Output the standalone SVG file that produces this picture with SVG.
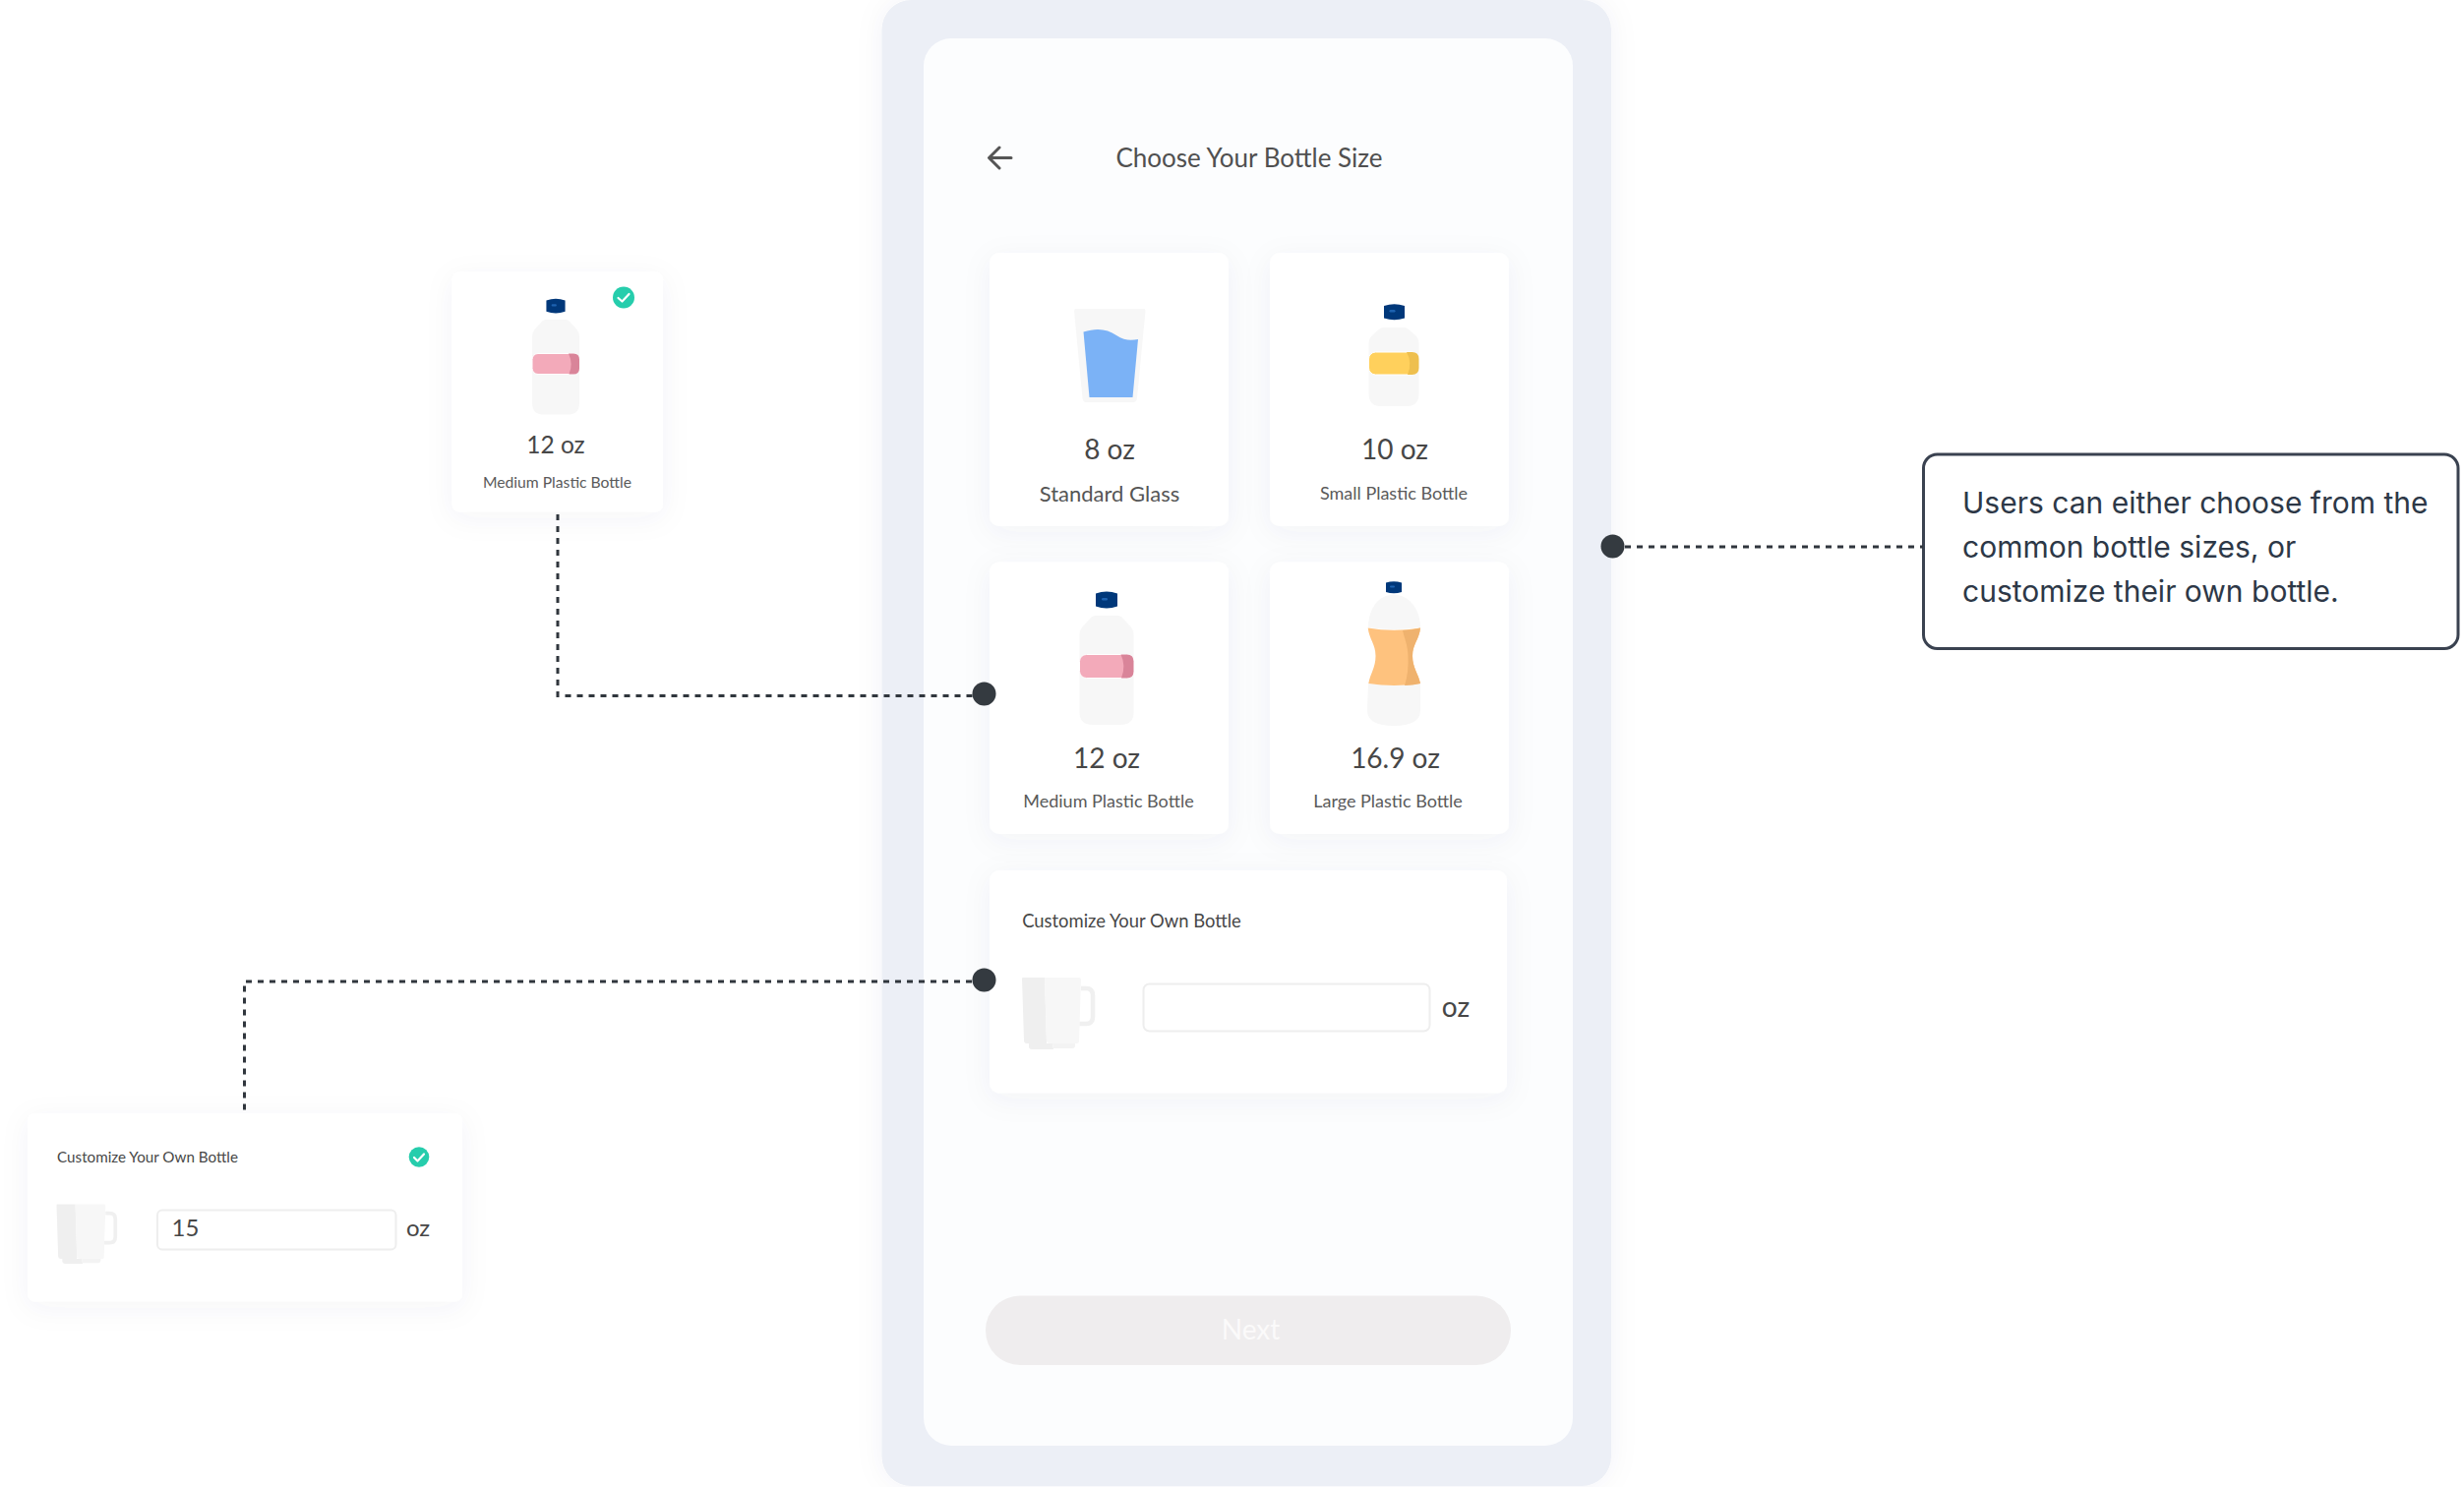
<svg xmlns="http://www.w3.org/2000/svg" width="2505" height="1512" viewBox="0 0 2505 1512">
<defs>
<filter id="sh" x="-30%" y="-30%" width="160%" height="160%"><feDropShadow dx="0" dy="6" stdDeviation="14" flood-color="#3a4a6b" flood-opacity="0.05"/></filter>
<filter id="shp" x="-10%" y="-10%" width="120%" height="120%"><feDropShadow dx="0" dy="0" stdDeviation="14" flood-color="#3a4a6b" flood-opacity="0.05"/></filter>
<g id="bottle">
<path d="M-12 0 H12 Q14 0 16 2 L25 12 Q27.500 15 27.500 20 V98 Q27.500 111 14 111 H-14 Q-27.500 111 -27.500 98 V20 Q-27.500 15 -25 12 L-16 2 Q-14 0 -12 0 Z" fill="#f7f7f7"/>
<path d="M-11 -22.500 Q0 -26.500 11 -22.500 V-9.500 Q0 -5.500 -11 -9.500 Z" fill="#00387a"/>
<rect x="-5" y="-18" width="6" height="2.500" rx="1.200" fill="#1d62b0"/>
</g>
<g id="mug">
<path d="M0 1 Q0 0 1 0 H23 L25 67 H5 Q2 67 2 64 Z" fill="#efefef"/>
<path d="M23 0 H58 Q60 0 60 2 L58 65 Q58 67 56 67 H29 Q25 67 25 64 Z" fill="#f7f7f7"/>
<path d="M7 67 H31 L32 73 H10 Q7 73 7 70 Z" fill="#efefef"/>
<path d="M31 67 H54 V69 Q54 72 51 72 H32 Z" fill="#f3f3f3"/>
<path d="M60 11 H65 Q72 11 72 18 V40 Q72 47 65 47 H58.500" fill="none" stroke="#f0f0f0" stroke-width="4.500"/>
</g>
</defs>
<style>
.t{font-family:"Lato","Noto Sans",sans-serif;fill:#474747;text-anchor:middle}
.oz{font-size:28px}
.lbl{font-size:18px;fill:#5a5a5a}
.card{fill:#fff}
.band{stroke:#fff;stroke-width:1}
.conn{fill:none;stroke:#30363d;stroke-width:3;stroke-dasharray:6 6}
.dot{fill:#343a40}
.check{fill:none;stroke:#fff;stroke-width:2.200;stroke-linecap:round;stroke-linejoin:round}
</style>
<rect width="2505" height="1512" fill="#fff"/>
<g id="phone">
<rect x="896.500" y="0" width="741.500" height="1511" rx="30" fill="#ecEff6" filter="url(#shp)"/>
<rect x="939" y="39" width="660" height="1431" rx="28" fill="#fcfdfe"/>
<path d="M1028 160.500 H1006 M1016 150 L1005.500 160.500 L1016 171" fill="none" stroke="#555" stroke-width="3" stroke-linecap="round" stroke-linejoin="round"/>
<text class="t" x="1270" y="169.500" style="font-size:26px;fill:#505050">Choose Your Bottle Size</text>
</g>
<g id="card-8oz">
<rect class="card" x="1006" y="257" width="243" height="278" rx="10" filter="url(#sh)"/>
<path d="M1093.500 314 H1163 Q1164.500 314 1164.500 316 L1156 405 Q1155.500 409 1152 409 H1104 Q1101 409 1100.500 405 L1092 316 Q1092 314 1093.500 314 Z" fill="#f7f7f7"/>
<path d="M1101.500 337.500 C1115 333 1126 334.500 1135 341 C1143 346.500 1150 346.500 1157 345 L1151.500 404 H1107.500 Z" fill="#7bb2f6"/>
<text class="t oz" x="1128" y="467">8 oz</text>
<text class="t" x="1128" y="509.500" style="font-size:22px;fill:#555">Standard Glass</text>
</g>
<g id="card-10oz">
<rect class="card" x="1291" y="257" width="243" height="278" rx="10" filter="url(#sh)"/>
<path d="M1406 333 H1428 Q1430 333 1432 335 L1440 342 Q1442.500 345 1442.500 349 V400 Q1442.500 413 1430 413 H1404 Q1391.500 413 1391.500 400 V349 Q1391.500 345 1394 342 L1402 335 Q1404 333 1406 333 Z" fill="#f7f7f7"/>
<path d="M1407 311 Q1417.500 307.500 1428 311 V323.500 Q1417.500 327 1407 323.500 Z" fill="#00387a"/>
<rect x="1412.500" y="315" width="6" height="2.500" rx="1.200" fill="#1d62b0"/>
<rect class="band" x="1391.500" y="358" width="51" height="23" rx="7" fill="#ffd05c"/>
<path d="M1430 358 H1435.500 Q1442.500 358 1442.500 365 V374 Q1442.500 381 1435.500 381 H1431 Q1436 369 1430 358 Z" fill="#eebf4e"/>
<text class="t oz" x="1418" y="467">10 oz</text>
<text class="t lbl" x="1417" y="507.500">Small Plastic Bottle</text>
</g>
<g id="card-12oz">
<rect class="card" x="1006" y="571.500" width="243" height="276.500" rx="10" filter="url(#sh)"/>
<use href="#bottle" x="1125" y="626"/>
<rect class="band" x="1097.500" y="665.500" width="55" height="24" rx="7" fill="#f3aaba"/>
<path d="M1139.500 665.500 H1145.500 Q1152.500 665.500 1152.500 672.500 V682.500 Q1152.500 689.500 1145.500 689.500 H1140 Q1145 677 1139.500 665.500 Z" fill="#d98499"/>
<text class="t oz" x="1125" y="780.500">12 oz</text>
<text class="t lbl" x="1127" y="821">Medium Plastic Bottle</text>
</g>
<g id="card-169oz">
<rect class="card" x="1291" y="571.500" width="243" height="276.500" rx="10" filter="url(#sh)"/>
<path d="M1409 606 Q1417 603 1425 606 C1438 611 1444 625 1444 638 Q1417 642 1391 638 C1391 625 1396 611 1409 606 Z" fill="#f7f7f7"/>
<path d="M1391 695 Q1417 699 1444 695 V722 Q1444 738 1417 738 Q1390 738 1390 722 Z" fill="#f7f7f7"/>
<path d="M1409 592.500 Q1417 590 1425 592.500 V602 Q1417 604.500 1409 602 Z" fill="#00387a"/>
<rect x="1413" y="595.500" width="5" height="2" rx="1" fill="#1d62b0"/>
<path d="M1390.700 638.500 Q1417 643 1444 638.500 C1443 650 1436 655 1436 667 C1436 679 1442 685 1444 695 Q1417 699 1391.300 695 C1393 685 1398.500 679 1398.500 667 C1398.500 655 1392 650 1390.700 638.500 Z" fill="#fec27e"/>
<path d="M1426 641 Q1436 640.500 1444 638.500 C1443 650 1436 655 1436 667 C1436 679 1442 685 1444 695 Q1436 697 1428 697 C1431 688 1432 677 1431.500 667 C1431 655 1428 650 1426 641 Z" fill="#efb26e"/>
<text class="t oz" x="1418.500" y="780.500">16.9 oz</text>
<text class="t lbl" x="1411" y="821">Large Plastic Bottle</text>
</g>
<g id="card-custom">
<rect class="card" x="1006" y="885" width="526" height="226.500" rx="10" filter="url(#sh)"/>
<text class="t" x="1150.500" y="942.500" style="font-size:18.400px">Customize Your Own Bottle</text>
<use href="#mug" x="1039" y="994"/>
<rect x="1162.500" y="1000.500" width="291" height="48" rx="6" fill="#fff" stroke="#eee" stroke-width="2"/>
<text class="t oz" x="1480" y="1033.500">oz</text>
</g>
<g id="next-button">
<rect x="1002" y="1317.500" width="534" height="70.500" rx="35" fill="#efedee"/>
<text x="1271.500" y="1361.500" font-size="28" font-family="Lato,sans-serif" text-anchor="middle" fill="#fbfafa">Next</text>
</g>
<g id="selected-12oz">
<rect class="card" x="459.500" y="276.500" width="214.500" height="244" rx="8" filter="url(#sh)"/>
<use href="#bottle" transform="translate(565 325) scale(0.87)"/>
<rect class="band" x="541" y="359.500" width="48" height="21" rx="6" fill="#f3aaba"/>
<path d="M578 359.500 H583 Q589 359.500 589 365.500 V374.500 Q589 380.500 583 380.500 H578.500 Q583 370 578 359.500 Z" fill="#d98499"/>
<circle cx="634" cy="302.500" r="11" fill="#26cdac"/>
<path class="check" d="M628.500 303 L632.500 306.500 L639.500 299"/>
<text class="t" x="565" y="461" style="font-size:24.500px">12 oz</text>
<text class="t lbl" x="566.500" y="496" style="font-size:15.700px">Medium Plastic Bottle</text>
</g>
<g id="selected-custom">
<rect class="card" x="28" y="1132" width="442" height="191.500" rx="8" filter="url(#sh)"/>
<text class="t" x="150" y="1182" style="font-size:15.200px">Customize Your Own Bottle</text>
<circle cx="426" cy="1176.500" r="10.300" fill="#26cdac"/>
<path class="check" d="M421 1177 L424.500 1180.500 L431 1173.500"/>
<use href="#mug" transform="translate(57.500 1224.500) scale(0.83)"/>
<rect x="160" y="1230.500" width="242.500" height="40" rx="5" fill="#fff" stroke="#eee" stroke-width="2"/>
<text x="174.500" y="1257" font-size="24" font-family="Lato,sans-serif" fill="#474747">15</text>
<text class="t" x="425" y="1257" style="font-size:24px">oz</text>
</g>
<g id="callout">
<rect x="1955.500" y="462" width="543.500" height="197.500" rx="14" fill="#fff" stroke="#3a4250" stroke-width="3"/>
<g font-family="Inter,sans-serif" font-size="30" fill="#2d3847">
<text x="1995" y="522">Users can either choose from the</text>
<text x="1995" y="567">common bottle sizes, or</text>
<text x="1995" y="612">customize their own bottle.</text>
</g>
</g>
<g id="connectors">
<path class="conn" d="M567 523 V707.500 H1000"/>
<path class="conn" d="M1000 998 H248.500 V1130"/>
<path class="conn" d="M1640 556 H1955"/>
<circle class="dot" cx="1000.500" cy="705.500" r="12"/>
<circle class="dot" cx="1000.500" cy="996.500" r="12"/>
<circle class="dot" cx="1639.500" cy="555.500" r="12"/>
</g>
</svg>
